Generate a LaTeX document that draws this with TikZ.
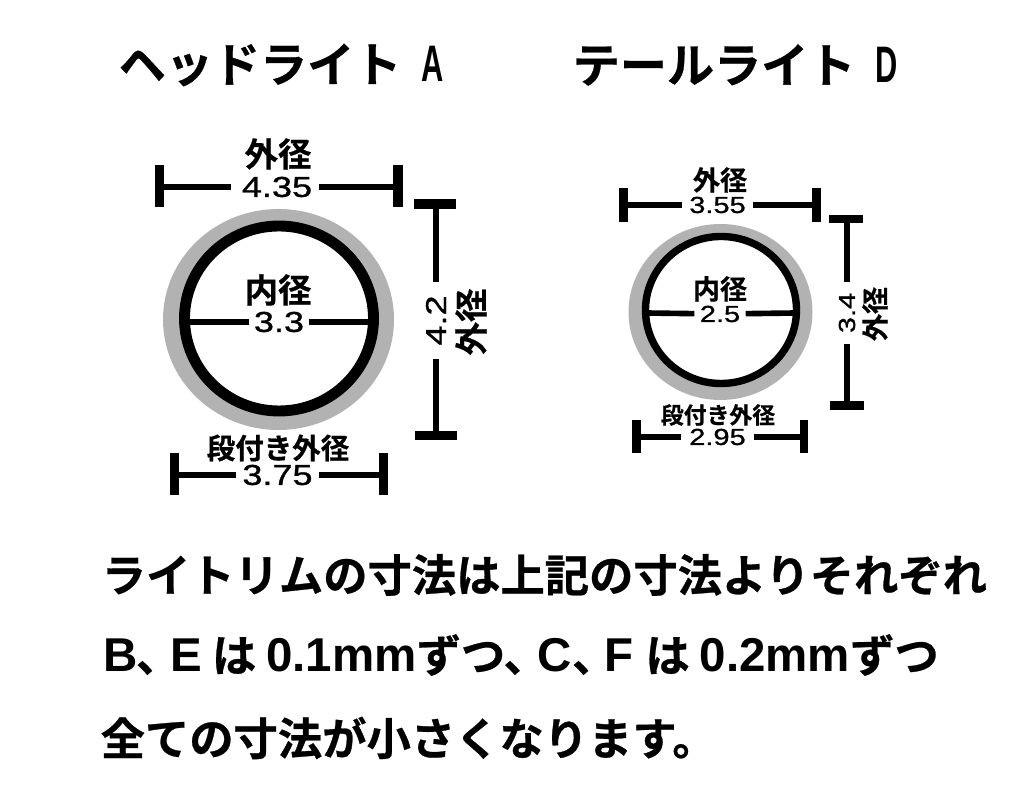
\documentclass[tikz,border=0pt]{standalone}
\usepackage{fontspec}
\newfontfamily\jpfont[FakeBold=0.6]{Noto Sans CJK JP Bold}
\newfontfamily\numfont[FakeStretch=1.25,FakeBold=1]{Liberation Sans}
\newfontfamily\latfont{Liberation Sans Bold}
\newfontfamily\narrowfont[FakeStretch=0.6]{Liberation Sans Bold}
\newcommand{\lat}[1]{{\fontsize{13.5}{13.5}\latfont #1}}
\newcommand{\tall}[1]{{\fontsize{14.6}{14.6}\narrowfont #1}}
\tikzset{
  dimline/.style={line width=1.9pt,black},
  barline/.style={line width=2.8pt,black},
  smalldim/.style={line width=1.6pt,black},
  smallbar/.style={line width=2.4pt,black},
  num/.style={inner sep=0pt,font=\fontsize{8.2}{8.2}\numfont},
  smallnum/.style={inner sep=0pt,font=\fontsize{6.6}{6.6}\numfont},
  head/.style={inner sep=0pt,anchor=west,font=\fontsize{13.4}{13.4}\jpfont},
  note/.style={inner sep=0pt,anchor=west,font=\fontsize{12.6}{12.6}\jpfont},
}
\begin{document}
\begin{tikzpicture}[x=0.01cm,y=-0.01cm]
\useasboundingbox (0,0) rectangle (1024,801);
\node [head] (titlea) at (118,65) {ヘッドライト\hspace{0.2cm}\tall{A}};
\node [head] (titled) at (572,65) {テールライト\hspace{0.2cm}\tall{D}};
% headlight A
\draw [fill=black!30,draw=none] (278.5,319.5) ellipse [x radius=115.5,y radius=110.5];
\draw [line width=3.1pt,fill=white] (279,318.5) ellipse [x radius=94.5,y radius=92.5];
\node [inner sep=0pt,font=\fontsize{9.5}{9.5}\jpfont] (aouter) at (278,154) {外径};
\node [num,minimum width=0.86cm] (anum) at (275,187) {\hspace{0.04cm}4.35};
\draw [barline] (159.5,165) -- (159.5,207);
\draw [barline] (398,165) -- (398,207);
\coordinate (al) at (159.5,187);
\coordinate (ar) at (398,187);
\draw [dimline] (al) -- (anum);
\draw [dimline] (anum) -- (ar);
\node [inner sep=0pt,font=\fontsize{9.5}{9.5}\jpfont] (ainner) at (278,290) {内径};
\node [num,minimum width=0.58cm] (aid) at (279,322) {3.3};
\coordinate (il) at (186,322);
\coordinate (ir) at (372,322);
\draw [dimline] (il) -- (aid);
\draw [dimline] (aid) -- (ir);
\node [num,rotate=90,minimum width=0.75cm] (ah) at (436,320.5) {4.2};
\node [inner sep=0pt,rotate=90,font=\fontsize{9.5}{9.5}\jpfont] (aside) at (471,322) {外径};
\draw [barline] (414,204) -- (456,204);
\draw [barline] (415,435.5) -- (457,435.5);
\coordinate (at) at (436,204);
\coordinate (ab) at (436,435.5);
\draw [dimline] (at) -- (ah);
\draw [dimline] (ah) -- (ab);
\node [inner sep=0pt,font=\fontsize{8.1}{8.1}\jpfont] (astep) at (278,448) {段付き外径};
\node [num,minimum width=0.81cm] (asn) at (277.5,475) {3.75};
\draw [barline] (174.5,453) -- (174.5,495);
\draw [barline] (383.5,453) -- (383.5,495);
\coordinate (sl) at (174.5,475);
\coordinate (sr) at (383.5,475);
\draw [dimline] (sl) -- (asn);
\draw [dimline] (asn) -- (sr);
% taillight D
\draw [fill=black!30,draw=none] (720.5,312) ellipse [x radius=92,y radius=88];
\draw [line width=2.1pt,fill=white] (721,310) ellipse [x radius=75.5,y radius=73.5];
\node [inner sep=0pt,font=\fontsize{7.7}{7.7}\jpfont] (douter) at (720,180) {外径};
\node [smallnum,minimum width=0.69cm] (dnum) at (717.5,205) {3.55};
\draw [smallbar] (623.5,188) -- (623.5,222);
\draw [smallbar] (816.5,188) -- (816.5,222);
\coordinate (dl) at (623.5,205);
\coordinate (dr) at (816.5,205);
\draw [smalldim] (dl) -- (dnum);
\draw [smalldim] (dnum) -- (dr);
\node [inner sep=0pt,font=\fontsize{7.7}{7.7}\jpfont] (dinner) at (720,289) {内径};
\node [smallnum,minimum width=0.5cm] (did) at (720,314) {2.5};
\coordinate (jl) at (646,313);
\coordinate (jr) at (796,313);
\draw [smalldim] (jl) -- (did);
\draw [smalldim] (did) -- (jr);
\node [smallnum,rotate=90,minimum width=0.6cm] (dh) at (847,313) {3.4};
\node [inner sep=0pt,rotate=90,font=\fontsize{7.7}{7.7}\jpfont] (dside) at (875,314) {外径};
\draw [smallbar] (829,219) -- (863,219);
\draw [smallbar] (830,405.5) -- (864,405.5);
\coordinate (dt) at (847,219);
\coordinate (db) at (847,405.5);
\draw [smalldim] (dt) -- (dh);
\draw [smalldim] (dh) -- (db);
\node [inner sep=0pt,font=\fontsize{6.5}{6.5}\jpfont] (dstep) at (718,415) {段付き外径};
\node [smallnum,minimum width=0.71cm] (dsn) at (717.5,437) {2.95};
\draw [smallbar] (636.5,420) -- (636.5,453);
\draw [smallbar] (804,420) -- (804,453);
\coordinate (tl) at (636.5,437);
\coordinate (tr) at (804,437);
\draw [smalldim] (tl) -- (dsn);
\draw [smalldim] (dsn) -- (tr);
% note
\node [note] (lineone) at (101,575) {ライトリムの寸法は上記の寸法よりそれぞれ};
\node [note] (linetwo) at (103,655) {\lat{B}\hspace{-0.02cm}、\hspace{-0.1cm}\lat{E}\hspace{0.1cm}は\hspace{0.1cm}\lat{0.1mm}ずつ、\hspace{-0.1cm}\lat{C}、\hspace{-0.12cm}\lat{F}\hspace{0.12cm}は\hspace{0.1cm}\lat{0.2mm}ずつ};
\node [note] (linethree) at (100,738) {全ての寸法が小さくなります。};
\end{tikzpicture}
\end{document}
